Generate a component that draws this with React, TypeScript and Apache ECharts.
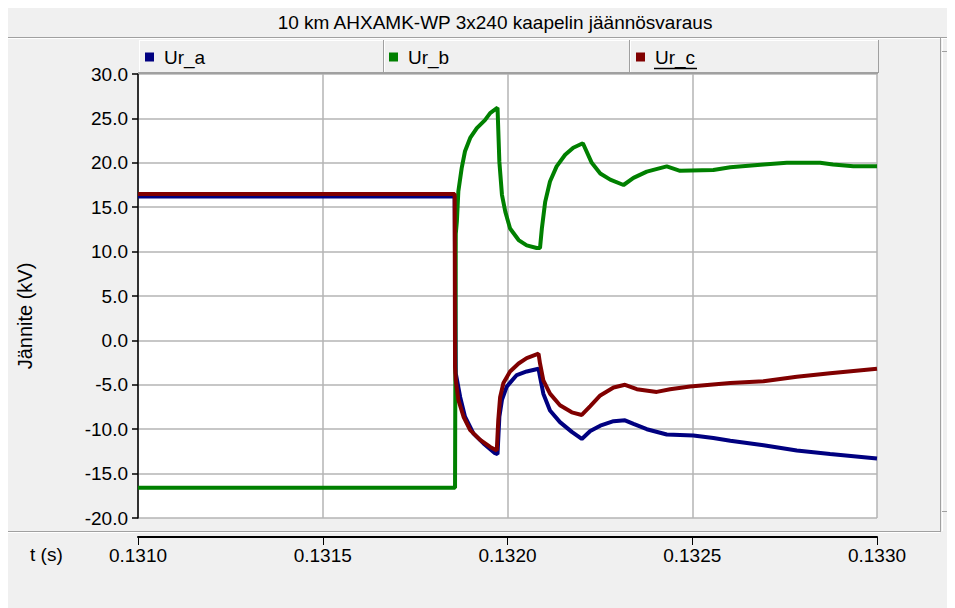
import React, { useEffect, useRef } from "react";
import * as echarts from "echarts";

const chartTitle = "10 km AHXAMK-WP 3x240 kaapelin jäännösvaraus";
const yAxisTitle = "Jännite (kV)";
const xAxisTitle = "t (s)";
const seriesNames = ["Ur_a", "Ur_b", "Ur_c"];
const seriesColors = ["#000080", "#008000", "#800000"];

const xMin = 0.131;
const xMax = 0.133;
const xStep = 0.0005;
const yMin = -20;
const yMax = 30;
const yStep = 5;

const timeA = [0.13100, 0.131857, 0.131860, 0.131872, 0.131885, 0.131908, 0.131935, 0.131966, 0.131973, 0.131978,
  0.131985, 0.131998, 0.132025, 0.132052, 0.132084, 0.132088, 0.132097, 0.132115, 0.132142, 0.132174,
  0.132201, 0.132224, 0.132251, 0.132287, 0.132318, 0.132341, 0.132377, 0.132431, 0.132503, 0.132557,
  0.132603, 0.132693, 0.132783, 0.132873, 0.13300];
const valuesA = [16.2, 16.2, -3.7, -6.4, -8.6, -10.5, -11.6, -12.7, -12.8, -8.6,
  -6.7, -5.2, -3.9, -3.5, -3.2, -4.1, -6.0, -7.9, -9.2, -10.3,
  -11.1, -10.2, -9.6, -9.1, -9.0, -9.4, -10.0, -10.6, -10.7, -11.0,
  -11.3, -11.8, -12.4, -12.8, -13.3];

const timeB = [0.13100, 0.131858, 0.131860, 0.131863, 0.131867, 0.131876, 0.131885, 0.131899, 0.131917, 0.131939,
  0.131953, 0.131973, 0.131978, 0.131985, 0.131994, 0.132007, 0.132030, 0.132052, 0.132079, 0.132088,
  0.132093, 0.132102, 0.132115, 0.132133, 0.132156, 0.132178, 0.132204, 0.132228, 0.132251, 0.132278,
  0.132314, 0.132341, 0.132377, 0.132431, 0.132467, 0.132557, 0.132603, 0.132693, 0.132756, 0.132846,
  0.132881, 0.132936, 0.13300];
const valuesB = [-16.6, -16.6, 12.0, 13.4, 16.8, 19.4, 21.3, 22.8, 23.9, 24.8,
  25.6, 26.2, 20.1, 16.4, 14.5, 12.6, 11.3, 10.7, 10.4, 10.4,
  12.6, 15.6, 17.9, 19.6, 20.9, 21.7, 22.2, 20.0, 18.8, 18.1,
  17.5, 18.3, 19.0, 19.6, 19.1, 19.2, 19.5, 19.8, 20.0, 20.0,
  19.8, 19.6, 19.6];

const timeC = [0.13100, 0.131857, 0.131858, 0.131860, 0.131867, 0.131881, 0.131899, 0.131926, 0.131953, 0.131971,
  0.131975, 0.131980, 0.131989, 0.132007, 0.132030, 0.132052, 0.132084, 0.132088, 0.132097, 0.132115,
  0.132142, 0.132174, 0.132201, 0.132224, 0.132251, 0.132287, 0.132318, 0.132350, 0.132404, 0.132440,
  0.132494, 0.132603, 0.132693, 0.132783, 0.132873, 0.13300];
const valuesC = [16.5, 16.5, -3.0, -4.5, -6.7, -8.6, -10.1, -11.2, -12.0, -12.4,
  -9.0, -6.4, -4.8, -3.5, -2.6, -2.0, -1.5, -2.6, -4.5, -6.0,
  -7.3, -8.1, -8.4, -7.4, -6.2, -5.3, -5.0, -5.5, -5.8, -5.5,
  -5.2, -4.8, -4.6, -4.1, -3.7, -3.2];

const FONT = "'Liberation Sans', Arial, sans-serif";
const GRAY = "#a0a0a0";

function zip(t: number[], v: number[]) {
  return t.map((x, i) => [x, v[i]]);
}

export default function App() {
  const ref = useRef<HTMLDivElement>(null);
  useEffect(() => {
    if (!ref.current) return;
    const chart = echarts.init(ref.current, undefined, { renderer: "svg" });
    const data = [zip(timeA, valuesA), zip(timeB, valuesB), zip(timeC, valuesC)];
    const legendLefts = [137, 381, 628];
    const hLine = (x1: number, x2: number, y: number, color: string, w = 1) => ({
      type: "line", silent: true, z: 10,
      shape: { x1, y1: y, x2, y2: y }, style: { stroke: color, lineWidth: w },
    });
    const vLine = (x: number, y1: number, y2: number, color: string, w = 1) => ({
      type: "line", silent: true, z: 10,
      shape: { x1: x, y1, x2: x, y2 }, style: { stroke: color, lineWidth: w },
    });
    chart.setOption({
      animation: false,
      backgroundColor: "#f0f0f0",
      textStyle: { fontFamily: FONT },
      grid: { left: 130, top: 66, width: 739, height: 444, containLabel: false, show: true, backgroundColor: "#ffffff", borderWidth: 0 },
      legend: seriesNames.map((n, i) => ({
        data: [n],
        left: legendLefts[i],
        top: 38,
        padding: 0,
        itemWidth: 9,
        itemHeight: 9,
        icon: "rect",
        selectedMode: false,
        textStyle: { fontSize: 19, color: "#000", fontFamily: FONT, lineHeight: 22, padding: [0, 0, 0, 5] },
      })),
      xAxis: {
        type: "value",
        min: xMin,
        max: xMax,
        interval: xStep,
        offset: 19,
        axisLine: { show: true, onZero: false, lineStyle: { color: "#000", width: 2 } },
        axisTick: { show: true, length: 8, lineStyle: { color: "#000", width: 1 } },
        axisLabel: { fontSize: 19, color: "#000", margin: 9, fontFamily: FONT, formatter: (v: number) => v.toFixed(4) },
        splitLine: { show: true, lineStyle: { color: "#b4b4b4", width: 1.5 } },
      },
      yAxis: {
        type: "value",
        min: yMin,
        max: yMax,
        interval: yStep,
        axisLine: { show: true, lineStyle: { color: "#000", width: 1.5 } },
        axisTick: { show: true, length: 6, lineStyle: { color: "#000", width: 1.5 } },
        axisLabel: { fontSize: 19, color: "#000", margin: 10, fontFamily: FONT, formatter: (v: number) => v.toFixed(1) },
        splitLine: { show: true, lineStyle: { color: "#b4b4b4", width: 1.5 } },
      },
      series: seriesNames.map((n, i) => ({
        name: n,
        type: "line",
        data: data[i],
        showSymbol: false,
        symbol: "none",
        color: seriesColors[i],
        lineStyle: { width: 4, color: seriesColors[i] },
        clip: true,
      })),
      graphic: [
        {
          type: "text", silent: true, left: undefined, x: 487, y: 14,
          style: { text: chartTitle, fontSize: 19, fontFamily: FONT, fill: "#000", align: "center", verticalAlign: "middle" },
        },
        hLine(0, 947, 29.5, GRAY),
        hLine(0, 947, 30.5, "#ffffff"),
        hLine(131, 870, 32.5, "#ffffff"),
        vLine(131.5, 32, 64, "#ffffff"),
        vLine(375.5, 32, 64, GRAY),
        vLine(376.5, 32, 64, "#ffffff"),
        vLine(621.5, 32, 64, GRAY),
        vLine(622.5, 32, 64, "#ffffff"),
        vLine(870.5, 32, 65, GRAY),
        hLine(130, 870, 65, GRAY, 2),
        hLine(646, 689, 60.5, "#000", 1.5),
        hLine(0, 932, 523.5, GRAY),
        hLine(0, 932, 524.5, "#ffffff"),
        vLine(932.5, 30, 524, GRAY),
        vLine(934.5, 31, 523, "#ffffff"),
        hLine(934, 947, 43.5, GRAY),
        hLine(934, 947, 503.5, GRAY),
        { type: "polygon", silent: true, z: 10, shape: { points: [[940, 42], [944, 38], [948, 42]] }, style: { fill: "#000" } },
        { type: "polygon", silent: true, z: 10, shape: { points: [[940, 511], [944, 515], [948, 511]] }, style: { fill: "#000" } },
        {
          type: "text", silent: true, x: 22, y: 546,
          style: { text: xAxisTitle, fontSize: 19, fontFamily: FONT, fill: "#000", align: "left", verticalAlign: "middle" },
        },
        {
          type: "text", silent: true, x: 17, y: 308, rotation: Math.PI / 2,
          style: { text: yAxisTitle, fontSize: 20, fontFamily: FONT, fill: "#000", align: "center", verticalAlign: "middle" },
        },
      ],
    });
    return () => chart.dispose();
  }, []);
  return <div ref={ref} style={{ width: 947, height: 600 }} />;
}
